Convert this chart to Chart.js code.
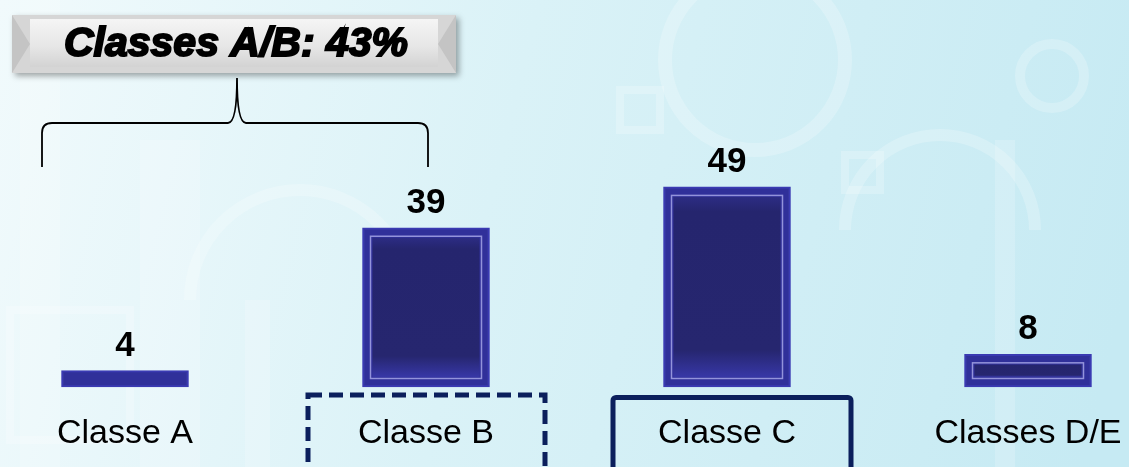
<!DOCTYPE html>
<html lang="pt">
<head>
    <meta charset="UTF-8">
    <title>Classes</title>
    <style>
        body {
            margin: 0;
            padding: 0;
            overflow: hidden;
        }
        canvas {
            display: block;
        }
    </style>
</head>
<body>
    <canvas id="classes-chart" width="1129" height="467"></canvas>

    <script src="https://cdn.jsdelivr.net/npm/chart.js"></script>
    <script>
        const categories = ['Classe A', 'Classe B', 'Classe C', 'Classes D/E'];
        const shares = [4, 39, 49, 8];
        const summaryText = 'Classes A/B: 43%';

        const navy = '#0b1f5c';

        // light cyan backdrop with some faint shapes
        const backdrop = {
            id: 'backdrop',
            beforeDraw(chart) {
                const ctx = chart.ctx;
                const w = chart.width, h = chart.height;
                ctx.save();
                const g = ctx.createLinearGradient(0, 0, w, h * 0.6);
                g.addColorStop(0, '#f1fafc');
                g.addColorStop(0.45, '#daf2f7');
                g.addColorStop(1, '#c6eaf3');
                ctx.fillStyle = g;
                ctx.fillRect(0, 0, w, h);

                ctx.strokeStyle = 'rgba(255,255,255,0.22)';
                ctx.fillStyle = 'rgba(255,255,255,0.18)';
                ctx.lineWidth = 14;
                ctx.beginPath(); ctx.arc(755, 60, 90, 0, Math.PI * 2); ctx.stroke();
                ctx.lineWidth = 10;
                ctx.beginPath(); ctx.arc(1052, 76, 32, 0, Math.PI * 2); ctx.stroke();
                ctx.lineWidth = 12;
                ctx.beginPath(); ctx.arc(940, 230, 95, Math.PI, Math.PI * 2); ctx.stroke();
                ctx.beginPath(); ctx.arc(300, 300, 110, Math.PI, Math.PI * 2); ctx.stroke();
                ctx.lineWidth = 8;
                ctx.strokeRect(620, 90, 40, 40);
                ctx.strokeRect(845, 155, 35, 35);
                ctx.strokeRect(10, 310, 120, 130);
                // vertical glass strips on the left
                ctx.fillRect(20, 0, 40, 467);
                ctx.fillRect(140, 140, 60, 327);
                ctx.fillRect(245, 300, 25, 167);
                ctx.fillRect(995, 140, 20, 327);
                ctx.restore();
            }
        };

        // inner bevel frame on each bar, value labels, category labels and boxes
        const barDecor = {
            id: 'barDecor',
            afterDatasetsDraw(chart) {
                const ctx = chart.ctx;
                const meta = chart.getDatasetMeta(0);
                ctx.save();
                meta.data.forEach((bar, i) => {
                    const p = bar.getProps(['x', 'y', 'base', 'width'], true);
                    const left = p.x - p.width / 2;
                    const top = p.y;
                    const h = p.base - p.y;
                    if (h > 22) {
                        const ig = ctx.createLinearGradient(0, top + 10, 0, p.base - 10);
                        ig.addColorStop(0, '#2c2c84');
                        ig.addColorStop(0.08, '#25256e');
                        ig.addColorStop(0.85, '#26266f');
                        ig.addColorStop(1, '#3737a6');
                        ctx.fillStyle = ig;
                        ctx.fillRect(left + 10, top + 10, p.width - 20, h - 20);
                        ctx.strokeStyle = 'rgba(165,165,230,0.85)';
                        ctx.lineWidth = 1.5;
                        ctx.strokeRect(left + 8, top + 8.5, p.width - 16, h - 17);
                    }
                    ctx.fillStyle = '#000';
                    ctx.font = 'bold 35px "Liberation Sans", Arial, sans-serif';
                    ctx.textAlign = 'center';
                    ctx.textBaseline = 'alphabetic';
                    ctx.fillText(String(shares[i]), p.x, top - 15);
                });

                const xs = chart.scales.x;
                ctx.font = '34px "Liberation Sans", Arial, sans-serif';
                ctx.fillStyle = '#000';
                ctx.textAlign = 'center';
                categories.forEach((c, i) => {
                    ctx.fillText(c, xs.getPixelForValue(i), 443);
                });

                // highlight boxes round Classe B (dashed) and Classe C (solid)
                ctx.strokeStyle = navy;
                ctx.lineWidth = 5;
                const bx = xs.getPixelForValue(1);
                ctx.setLineDash([14, 7]);
                ctx.strokeRect(bx - 118, 395, 237, 80);
                ctx.setLineDash([]);
                const cx = xs.getPixelForValue(2);
                ctx.beginPath();
                ctx.roundRect(cx - 114, 397.5, 238, 80, 3);
                ctx.stroke();
                ctx.restore();
            }
        };

        // grey summary box with a brace spanning classes A and B
        const summary = {
            id: 'summary',
            afterDraw(chart) {
                const ctx = chart.ctx;
                const x0 = 12, y0 = 15, w = 444, h = 58;
                ctx.save();
                ctx.shadowColor = 'rgba(0,0,0,0.35)';
                ctx.shadowBlur = 6;
                ctx.shadowOffsetX = 3;
                ctx.shadowOffsetY = 3;
                ctx.fillStyle = '#d6d6d6';
                ctx.fillRect(x0, y0, w, h);
                ctx.shadowColor = 'transparent';

                // bevel edges
                const b = 12;
                ctx.fillStyle = '#c4c4c4';
                ctx.beginPath();
                ctx.moveTo(x0, y0); ctx.lineTo(x0 + b * 1.5, y0 + h / 2); ctx.lineTo(x0, y0 + h); ctx.fill();
                ctx.beginPath();
                ctx.moveTo(x0 + w, y0); ctx.lineTo(x0 + w - b * 1.5, y0 + h / 2); ctx.lineTo(x0 + w, y0 + h); ctx.fill();
                const fg = ctx.createLinearGradient(0, y0, 0, y0 + h);
                fg.addColorStop(0, '#f7f7f7');
                fg.addColorStop(0.55, '#e6e6e6');
                fg.addColorStop(1, '#cdcdcd');
                ctx.fillStyle = fg;
                ctx.beginPath();
                ctx.moveTo(x0 + b * 1.5, y0 + 4);
                ctx.lineTo(x0 + w - b * 1.5, y0 + 4);
                ctx.lineTo(x0 + w - b * 1.5, y0 + h - 6);
                ctx.lineTo(x0 + b * 1.5, y0 + h - 6);
                ctx.closePath();
                ctx.fill();

                ctx.fillStyle = '#000';
                ctx.strokeStyle = '#000';
                ctx.lineWidth = 2;
                ctx.font = 'italic bold 41px "Liberation Sans", Arial, sans-serif';
                ctx.textAlign = 'center';
                ctx.textBaseline = 'alphabetic';
                ctx.fillText(summaryText, x0 + w / 2 + 2, y0 + 41);
                ctx.strokeText(summaryText, x0 + w / 2 + 2, y0 + 41);

                // brace
                const xs = chart.scales.x;
                const l = xs.getPixelForValue(0) - 83;
                const r = xs.getPixelForValue(1) + 2;
                const mid = 237, yb = 123;
                ctx.lineWidth = 1.8;
                ctx.beginPath();
                ctx.moveTo(l, 167);
                ctx.lineTo(l, yb + 10);
                ctx.quadraticCurveTo(l, yb, l + 10, yb);
                ctx.lineTo(mid - 9, yb);
                ctx.quadraticCurveTo(mid, yb, mid, 78);
                ctx.quadraticCurveTo(mid, yb, mid + 9, yb);
                ctx.lineTo(r - 10, yb);
                ctx.quadraticCurveTo(r, yb, r, yb + 10);
                ctx.lineTo(r, 167);
                ctx.stroke();
                ctx.restore();
            }
        };

        new Chart(document.getElementById('classes-chart'), {
            type: 'bar',
            data: {
                labels: categories,
                datasets: [{
                    data: shares,
                    backgroundColor: '#30309a',
                    borderColor: '#3a3ab2',
                    borderWidth: 2,
                    borderSkipped: false,
                    barThickness: 127,
                    clip: false
                }]
            },
            options: {
                responsive: false,
                devicePixelRatio: 1,
                animation: false,
                layout: {
                    padding: { left: 125, right: 101, top: 142, bottom: 80 }
                },
                plugins: {
                    legend: { display: false },
                    tooltip: { enabled: false }
                },
                scales: {
                    x: { display: false, offset: false },
                    y: { display: false, min: 0, max: 60 }
                }
            },
            plugins: [backdrop, barDecor, summary]
        });
    </script>
</body>
</html>
